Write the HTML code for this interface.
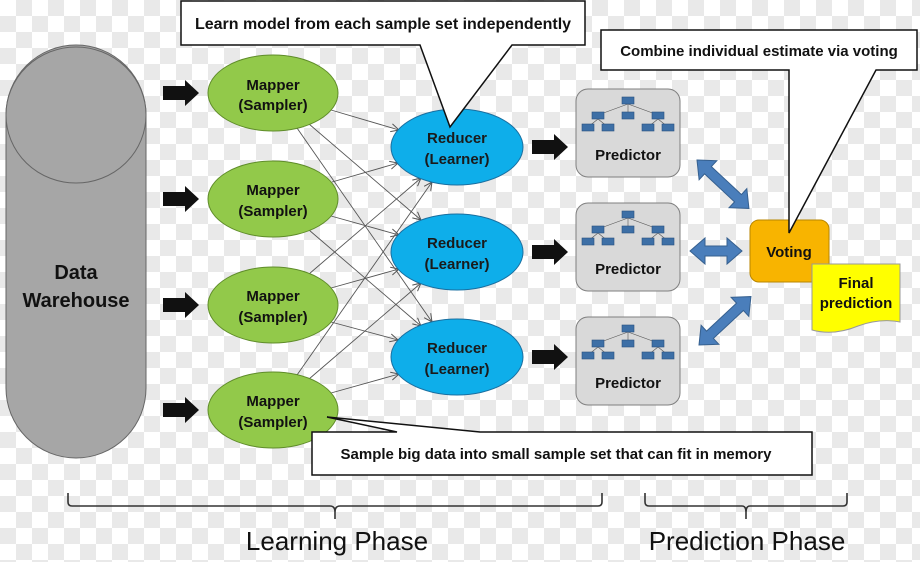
<!DOCTYPE html>
<html><head><meta charset="utf-8"><style>
html,body{margin:0;padding:0}
body{width:920px;height:562px;overflow:hidden;
background-color:#fff;
background-image:linear-gradient(45deg,#e9e9e9 25%,transparent 25%,transparent 75%,#e9e9e9 75%),linear-gradient(45deg,#e9e9e9 25%,transparent 25%,transparent 75%,#e9e9e9 75%);
background-size:32px 32px;background-position:0 0,16px 16px;}
svg, svg text{font-family:"Liberation Sans",Arial,sans-serif}
svg{display:block}
.b{font-weight:bold}
</style></head><body>
<svg width="920" height="562" viewBox="0 0 920 562" xmlns="http://www.w3.org/2000/svg" font-family="Liberation Sans, Arial, sans-serif">
<defs>
<marker id="ah" markerWidth="10" markerHeight="10" refX="9" refY="5" orient="auto" markerUnits="userSpaceOnUse">
<path d="M1,1 L9,5 L1,9" fill="none" stroke="#555" stroke-width="1"/></marker>
<g id="blk"><polygon points="0,-7 22,-7 22,-13 36,0 22,13 22,7 0,7" fill="#111"/></g>
<g id="tree" fill="#3d6fa6" stroke="#2a5080" stroke-width="0.6">
<line x1="52" y1="15" x2="22" y2="26" stroke="#555"/><line x1="52" y1="15" x2="52" y2="26" stroke="#555"/><line x1="52" y1="15" x2="82" y2="26" stroke="#555"/>
<line x1="22" y1="30" x2="12" y2="38" stroke="#555"/><line x1="22" y1="30" x2="32" y2="38" stroke="#555"/>
<line x1="82" y1="30" x2="72" y2="38" stroke="#555"/><line x1="82" y1="30" x2="92" y2="38" stroke="#555"/>
<rect x="46" y="8" width="12" height="7"/>
<rect x="16" y="23" width="12" height="7"/><rect x="46" y="23" width="12" height="7"/><rect x="76" y="23" width="12" height="7"/>
<rect x="6" y="35" width="12" height="7"/><rect x="26" y="35" width="12" height="7"/><rect x="66" y="35" width="12" height="7"/><rect x="86" y="35" width="12" height="7"/>
</g>
</defs>

<path d="M6,115 A70,70 0 0 1 146,115 L146,388 A70,70 0 0 1 6,388 Z" fill="#a6a6a6" stroke="#666" stroke-width="1"/>
<ellipse cx="76" cy="115" rx="70" ry="68" fill="#a6a6a6" stroke="#666" stroke-width="1"/>
<text x="76" y="279" text-anchor="middle" class="b" font-size="20" fill="#111">Data</text>
<text x="76" y="307" text-anchor="middle" class="b" font-size="20" fill="#111">Warehouse</text>

<use href="#blk" x="163" y="93"/><use href="#blk" x="163" y="199"/><use href="#blk" x="163" y="305"/><use href="#blk" x="163" y="410"/>
<use href="#blk" x="532" y="147"/><use href="#blk" x="532" y="252"/><use href="#blk" x="532" y="357"/>

<g stroke="#555" stroke-width="0.9" marker-end="url(#ah)">
<line x1="331" y1="110" x2="399" y2="130"/>
<line x1="309" y1="124" x2="421" y2="220"/>
<line x1="297" y1="128" x2="432" y2="322"/>
<line x1="332" y1="182" x2="398" y2="163"/>
<line x1="331" y1="216" x2="399" y2="235"/>
<line x1="309" y1="230" x2="421" y2="326"/>
<line x1="309" y1="274" x2="421" y2="178"/>
<line x1="331" y1="288" x2="399" y2="269"/>
<line x1="331" y1="322" x2="398" y2="340"/>
<line x1="297" y1="375" x2="432" y2="182"/>
<line x1="309" y1="379" x2="421" y2="283"/>
<line x1="331" y1="393" x2="399" y2="374"/>
</g>

<g fill="#92c94a" stroke="#5f8c2a" stroke-width="1">
<ellipse cx="273" cy="93" rx="65" ry="38"/><ellipse cx="273" cy="199" rx="65" ry="38"/>
<ellipse cx="273" cy="305" rx="65" ry="38"/><ellipse cx="273" cy="410" rx="65" ry="38"/>
</g>
<g class="b" font-size="15" fill="#111" text-anchor="middle">
<text x="273" y="90">Mapper</text><text x="273" y="110">(Sampler)</text>
<text x="273" y="195">Mapper</text><text x="273" y="216">(Sampler)</text>
<text x="273" y="301">Mapper</text><text x="273" y="322">(Sampler)</text>
<text x="273" y="406">Mapper</text><text x="273" y="427">(Sampler)</text>
</g>

<g fill="#0eaeea" stroke="#1a6fa0" stroke-width="1">
<ellipse cx="457" cy="147" rx="66" ry="38"/><ellipse cx="457" cy="252" rx="66" ry="38"/><ellipse cx="457" cy="357" rx="66" ry="38"/>
</g>
<g class="b" font-size="15" fill="#1a1a1a" text-anchor="middle">
<text x="457" y="143">Reducer</text><text x="457" y="164">(Learner)</text>
<text x="457" y="248">Reducer</text><text x="457" y="269">(Learner)</text>
<text x="457" y="353">Reducer</text><text x="457" y="374">(Learner)</text>
</g>

<g fill="#d9d9d9" stroke="#7f7f7f" stroke-width="1">
<rect x="576" y="89" width="104" height="88" rx="12"/>
<rect x="576" y="203" width="104" height="88" rx="12"/>
<rect x="576" y="317" width="104" height="88" rx="12"/>
</g>
<use href="#tree" x="576" y="89"/><use href="#tree" x="576" y="203"/><use href="#tree" x="576" y="317"/>
<g class="b" font-size="15" fill="#111" text-anchor="middle">
<text x="628" y="160">Predictor</text><text x="628" y="274">Predictor</text><text x="628" y="388">Predictor</text>
</g>

<g fill="#4a7ebb" stroke="#36608f" stroke-width="1">
<polygon transform="translate(690,251)" points="0,0 15,-13 15,-5 37,-5 37,-13 52,0 37,13 37,5 15,5 15,13"/>
<polygon transform="translate(697,160) rotate(43)" points="0,0 15,-13 15,-5 56,-5 56,-13 71,0 56,13 56,5 15,5 15,13"/>
<polygon transform="translate(699,345) rotate(-43)" points="0,0 15,-13 15,-5 56,-5 56,-13 71,0 56,13 56,5 15,5 15,13"/>
</g>

<rect x="750" y="220" width="79" height="62" rx="9" fill="#f8b400" stroke="#b88600" stroke-width="1"/>
<text x="789" y="257" text-anchor="middle" class="b" font-size="15" fill="#111">Voting</text>
<path d="M812,264 L900,264 L900,322 Q880,318 858,326 Q834,336 812,330 Z" fill="#ffff00" stroke="#999" stroke-width="1"/>
<text x="856" y="288" text-anchor="middle" class="b" font-size="15" fill="#111">Final</text>
<text x="856" y="308" text-anchor="middle" class="b" font-size="15" fill="#111">prediction</text>

<path d="M181,1 L585,1 L585,45 L512,45 L450,127 L420,45 L181,45 Z" fill="#fff" stroke="#111" stroke-width="1.5"/>
<text x="383" y="29" text-anchor="middle" class="b" font-size="16" fill="#111">Learn model from each sample set independently</text>
<path d="M601,30 L917,30 L917,70 L876,70 L789,233 L789,70 L601,70 Z" fill="#fff" stroke="#111" stroke-width="1.5"/>
<text x="759" y="56" text-anchor="middle" class="b" font-size="15" fill="#111">Combine individual estimate via voting</text>
<path d="M312,432 L397,432 L327,417 L480,432 L812,432 L812,475 L312,475 Z" fill="#fff" stroke="#111" stroke-width="1.5"/>
<text x="556" y="459" text-anchor="middle" class="b" font-size="15" fill="#111">Sample big data into small sample set that can fit in memory</text>

<g fill="none" stroke="#333" stroke-width="1.6">
<path d="M68,493 L68,502 Q68,506 72,506 L330,506 Q335,506 335,512 L335,519 M335,512 Q335,506 340,506 L598,506 Q602,506 602,502 L602,493"/>
<path d="M645,493 L645,502 Q645,506 649,506 L742,506 Q746,506 746,512 L746,519 M746,512 Q746,506 750,506 L843,506 Q847,506 847,502 L847,493"/>
</g>
<text x="337" y="550" text-anchor="middle" font-size="26" fill="#111">Learning Phase</text>
<text x="747" y="550" text-anchor="middle" font-size="26" fill="#111">Prediction Phase</text>
</svg>
</body></html>
